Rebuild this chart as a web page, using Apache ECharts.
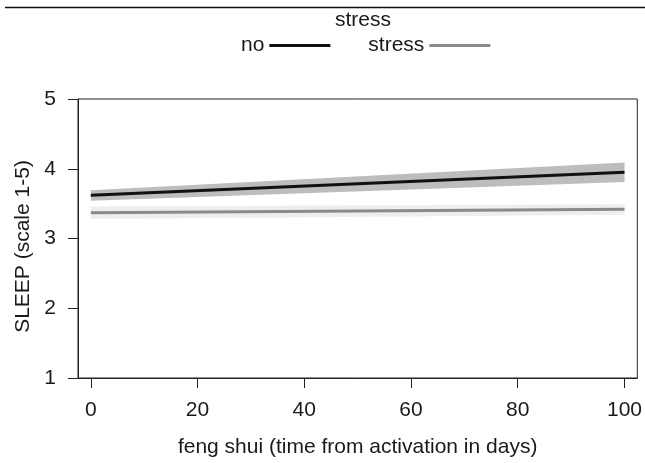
<!DOCTYPE html>
<html>
<head>
<meta charset="utf-8">
<script src="https://cdn.jsdelivr.net/npm/echarts@6/dist/echarts.min.js"></script>
<style>
  html, body { margin: 0; padding: 0; background: #fff; }
  #chart { width: 645px; height: 463px; }
</style>
</head>
<body>
<div id="chart"></div>
<script>
// effect estimates at the two ends of the fitted range
const days = [0, 100];
const xTicks = [0, 20, 40, 60, 80, 100];
const yTicks = [1, 2, 3, 4, 5];

const noFit = [3.62, 3.95];
const noLower = [3.54, 3.81];
const noUpper = [3.69, 4.09];

const stressFit = [3.37, 3.42];
const stressLower = [3.28, 3.34];
const stressUpper = [3.46, 3.49];

const font = '"Liberation Sans", Arial, sans-serif';
const ink = '#1a1a1a';
const noColor = '#111111';
const stressColor = '#8a8a8a';
const fs = 21;

const pairs = (ys) => days.map((d, i) => [d, ys[i]]);

// confidence band as one polygon, mapped through the grid's scales
const band = (name, lo, hi, color) => ({
  name, type: 'custom', silent: true,
  data: days.map((d, i) => [d, lo[i], hi[i]]),
  encode: { x: 0, y: [1, 2] },
  renderItem: (params, api) => {
    if (params.dataIndex !== 0) return null;
    const top = days.map((d, i) => api.coord([d, hi[i]]));
    const bottom = days.map((d, i) => api.coord([d, lo[i]])).reverse();
    return {
      type: 'polygon',
      shape: { points: top.concat(bottom) },
      style: { fill: color },
    };
  },
});

const chart = echarts.init(document.getElementById('chart'));
chart.setOption({
  backgroundColor: '#fff',
  animation: false,
  textStyle: { fontFamily: font, color: ink },
  title: {
    text: 'stress', left: 330, top: 5,
    textStyle: { fontFamily: font, fontSize: fs, fontWeight: 'normal', color: ink },
  },
  legend: {
    data: [
      { name: 'no', itemStyle: { color: noColor } },
      { name: 'stress', itemStyle: { color: stressColor } },
    ],
    left: 236, top: 30,
    align: 'right',
    icon: 'rect',
    itemWidth: 61, itemHeight: 3, itemGap: 38,
    textStyle: { fontFamily: font, fontSize: fs, color: ink },
  },
  graphic: [{
    type: 'line', shape: { x1: 5, y1: 7.5, x2: 645, y2: 7.5 },
    style: { stroke: '#111', lineWidth: 1.5 },
  }],
  grid: {
    left: 78, right: 7, top: 99, bottom: 84,
    show: true, borderColor: '#222', borderWidth: 1,
  },
  xAxis: {
    type: 'value', min: -2.4, max: 102.4,
    name: 'feng shui (time from activation in days)',
    nameLocation: 'middle', nameGap: 59,
    nameTextStyle: { fontFamily: font, fontSize: fs, color: ink },
    axisLine: { show: true, onZero: false, lineStyle: { color: '#222' } },
    axisTick: { show: true, length: 10, customValues: xTicks, lineStyle: { color: '#222' } },
    axisLabel: { customValues: xTicks, margin: 22, fontSize: fs, fontFamily: font, color: ink },
    splitLine: { show: false },
  },
  yAxis: {
    type: 'value', min: 1, max: 5, interval: 1,
    name: 'SLEEP (scale 1-5)',
    nameLocation: 'middle', nameGap: 44,
    nameTextStyle: { fontFamily: font, fontSize: fs, color: ink, padding: [0, 16, 0, 0] },
    axisLine: { show: true, onZero: false, lineStyle: { color: '#222' } },
    axisTick: { show: true, length: 10, customValues: yTicks, lineStyle: { color: '#222' } },
    axisLabel: { customValues: yTicks, margin: 22, fontSize: fs, fontFamily: font, color: ink },
    splitLine: { show: false },
  },
  series: [
    band('stressBand', stressLower, stressUpper, '#eeeeee'),
    band('noBand', noLower, noUpper, '#bdbdbd'),
    {
      name: 'stress', type: 'line', data: pairs(stressFit), symbol: 'none',
      lineStyle: { color: stressColor, width: 3 }, itemStyle: { color: stressColor },
    },
    {
      name: 'no', type: 'line', data: pairs(noFit), symbol: 'none',
      lineStyle: { color: noColor, width: 3 }, itemStyle: { color: noColor },
    },
  ],
});
</script>
</body>
</html>
